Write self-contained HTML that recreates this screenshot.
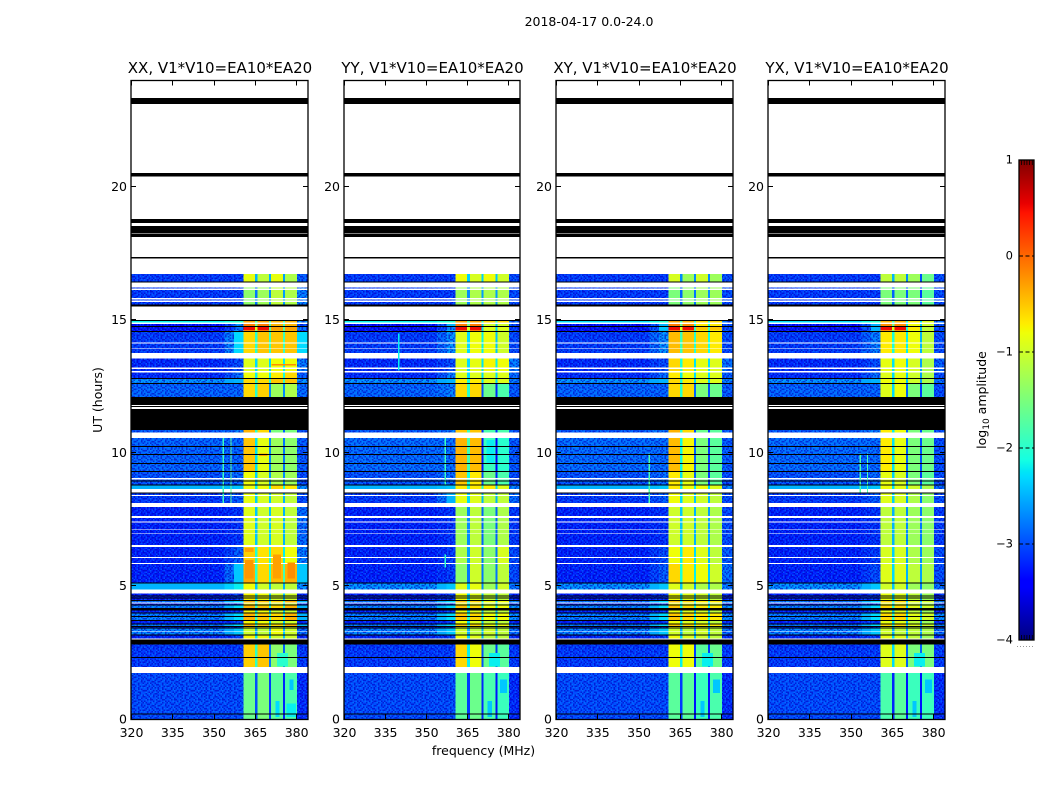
<!DOCTYPE html>
<html lang="en">
<head>
<meta charset="utf-8">
<title>2018-04-17 amplitude waterfall</title>
<style>
html,body{margin:0;padding:0;background:#fff;width:1050px;height:800px;overflow:hidden}
svg{display:block}
text{font-family:"DejaVu Sans","Liberation Sans",sans-serif;fill:#000}
</style>
</head>
<body>
<svg id="figure" xmlns="http://www.w3.org/2000/svg" width="1050" height="800" viewBox="0 0 1050 800">
<defs id="defs"></defs>
<text x="589" y="26" font-size="12.5" text-anchor="middle">2018-04-17 0.0-24.0</text>
<text x="483.5" y="755" font-size="12.5" text-anchor="middle">frequency (MHz)</text>
<text x="102" y="400" font-size="12.5" text-anchor="middle" transform="rotate(-90 102 400)">UT (hours)</text>
<text x="986" y="400" font-size="12.5" text-anchor="middle" transform="rotate(-90 986 400)">log<tspan font-size="9" dy="3">10</tspan><tspan dy="-3"> amplitude</tspan></text>
</svg>
<script>
const panelNames = ['XX, V1*V10=EA10*EA20', 'YY, V1*V10=EA10*EA20', 'XY, V1*V10=EA10*EA20', 'YX, V1*V10=EA10*EA20'];
const xTicks = [320, 335, 350, 365, 380];
const yTicks = [0, 5, 10, 15, 20];
const cbarTicks = [1, 0, -1, -2, -3, -4];

const flaggedBands = [[23.34,23.11],[20.52,20.39],[18.79,18.64],[18.53,18.26],[18.23,18.13],[17.37,17.32],[16.45,16.42],[15.59,15.52],[15.00,14.96],[14.77,14.75],[14.59,14.55],[12.82,12.79],[12.64,12.60],[12.12,11.82],[11.78,11.73],[11.67,10.87],[10.27,10.23],[9.97,9.93],[9.63,9.59],[9.33,9.29],[8.97,8.93],[8.83,8.79],[8.53,8.49],[5.15,5.11],[4.66,4.64],[4.59,4.56],[4.49,4.45],[4.31,4.29],[4.18,4.09],[4.01,3.99],[3.89,3.86],[3.74,3.71],[3.61,3.59],[3.51,3.48],[3.46,3.44],[3.20,3.16],[3.01,2.81],[2.35,2.32],[0.23,0.20]];

const dataBands = [[16.73,16.45,'A'],[16.23,16.19,'B'],[16.14,15.84,'B'],[15.78,15.73,'B'],[15.68,15.59,'B'],[14.96,14.92,'C'],[14.86,14.77,'D'],[14.75,14.62,'E'],[14.62,14.59,'D'],[14.55,14.16,'F'],[14.13,13.94,'F'],[13.91,13.77,'F'],[13.56,13.23,'G'],[13.17,13.09,'G'],[13.04,12.82,'H'],[12.79,12.64,'I'],[12.60,12.12,'J'],[10.87,10.78,'K'],[10.57,10.27,'L'],[10.23,9.97,'L'],[9.93,9.63,'L'],[9.59,9.33,'L'],[9.29,9.07,'M'],[9.02,8.97,'M'],[8.93,8.83,'M'],[8.79,8.66,'N'],[8.49,8.44,'O'],[8.39,8.13,'O'],[7.98,7.64,'P'],[7.56,7.43,'P'],[7.39,7.14,'P'],[7.12,6.99,'P'],[6.97,6.56,'P'],[6.48,6.10,'Q'],[6.06,5.88,'Q'],[5.84,5.15,'R'],[5.11,4.89,'S'],[4.74,4.66,'T'],[4.64,4.59,'T'],[4.56,4.49,'T'],[4.45,4.39,'U'],[4.35,4.31,'T'],[4.29,4.18,'U'],[4.09,4.01,'T'],[3.99,3.89,'U'],[3.86,3.74,'U'],[3.71,3.61,'T'],[3.59,3.51,'U'],[3.48,3.46,'T'],[3.44,3.33,'V'],[3.30,3.20,'V'],[3.16,3.05,'T'],[2.81,2.35,'W'],[2.32,1.97,'W'],[1.75,0.23,'X'],[0.20,0.06,'X'],[0.06,0,'X']];

/* log10 amplitude per group: background, shoulder, sub-band 1-4, upper edge */
const xxLevels = {A:[-3.1,-3.1,-0.85,-1.1,-0.85,-1.2,-2.9],B:[-3.1,-3.1,-1.4,-1.3,-1.1,-1.2,-2.7],C:[-2.2,-2.0,-0.3,-0.3,-0.4,-0.4,-2.6],D:[-3.4,-2.6,-0.1,-0.1,-0.4,-0.4,-3.0],E:[-3.5,-2.8,0.5,0.5,-0.3,-0.3,-2.8],F:[-3.1,-2.3,-0.6,-0.5,-0.5,-0.5,-2.3],G:[-3.2,-3.0,-0.9,-0.9,-0.8,-0.8,-2.7],H:[-3.2,-2.8,-0.8,-0.8,-0.7,-0.6,-2.9],I:[-2.6,-2.5,-0.6,-0.6,-0.5,-0.5,-2.6],J:[-2.85,-2.85,-0.6,-0.55,-1.3,-1.2,-2.8],K:[-2.9,-2.7,-0.4,-0.6,-1.5,-1.5,-2.9],L:[-2.85,-2.85,-0.5,-0.85,-1.3,-1.4,-2.9],M:[-2.95,-2.8,-0.8,-0.95,-1.2,-1.3,-3.0],N:[-2.5,-2.4,-0.8,-0.8,-0.6,-0.7,-2.6],O:[-3.1,-2.9,-0.85,-0.95,-1.0,-1.1,-3.0],P:[-3.25,-3.15,-0.9,-1.0,-0.95,-1.1,-2.8],Q:[-3.25,-2.9,-0.55,-0.65,-0.6,-0.8,-2.7],R:[-3.25,-2.4,-0.35,-0.6,-0.45,-0.4,-2.4],S:[-2.5,-2.2,-0.8,-1.0,-1.1,-1.1,-2.6],T:[-3.25,-3.1,-0.75,-0.8,-1.0,-1.0,-3.2],U:[-2.7,-2.3,-0.4,-0.5,-0.6,-0.4,-2.5],V:[-2.7,-2.4,-1.0,-1.1,-0.8,-1.0,-2.8],W:[-3.1,-3.1,-0.55,-0.5,-1.4,-1.5,-3.1],X:[-3.0,-3.0,-1.6,-1.5,-1.7,-1.8,-3.2]};
const yyLevels = {A:[-3.1,-3.1,-0.8,-0.95,-0.8,-1.0,-3.0],B:[-3.1,-3.1,-1.3,-1.2,-1.2,-1.2,-3.0],C:[-2.2,-2.0,-0.3,-0.3,-0.6,-0.6,-2.8],D:[-3.4,-2.5,-0.1,-0.1,-1.0,-1.0,-3.0],E:[-3.5,-2.7,0.5,0.5,-0.9,-0.9,-3.1],F:[-3.1,-2.6,-0.9,-0.8,-0.8,-1.0,-3.0],G:[-3.2,-3.0,-0.9,-0.85,-0.75,-0.8,-2.7],H:[-3.2,-2.7,-0.9,-0.9,-0.9,-0.9,-2.8],I:[-2.6,-2.5,-0.7,-0.7,-0.9,-0.9,-2.7],J:[-2.85,-2.7,-0.6,-0.6,-1.6,-1.8,-2.9],K:[-2.9,-2.7,-0.5,-0.5,-1.8,-1.8,-2.9],L:[-2.8,-2.8,-0.4,-0.45,-1.9,-2.0,-2.9],M:[-2.95,-2.8,-0.5,-0.7,-1.6,-1.8,-3.0],N:[-2.5,-2.4,-0.7,-0.7,-0.7,-0.9,-2.7],O:[-3.1,-2.5,-0.85,-0.9,-1.1,-1.1,-2.8],P:[-3.25,-3.15,-1.3,-1.1,-1.5,-1.2,-3.1],Q:[-3.25,-3.1,-1.2,-1.0,-1.4,-0.95,-3.0],R:[-3.25,-3.1,-1.4,-1.0,-1.4,-1.1,-3.0],S:[-2.6,-2.4,-0.9,-0.85,-1.3,-1.0,-2.7],T:[-3.25,-3.1,-0.8,-0.9,-1.1,-1.1,-3.2],U:[-2.7,-2.3,-0.5,-0.6,-0.8,-0.8,-2.6],V:[-2.7,-2.4,-1.0,-1.1,-1.0,-1.1,-2.8],W:[-3.1,-3.1,-0.6,-0.8,-1.6,-1.7,-3.1],X:[-3.0,-3.0,-1.7,-1.6,-1.8,-1.9,-3.2]};
const xyLevels = {A:[-3.1,-3.1,-0.95,-1.3,-1.0,-1.3,-3.0],B:[-3.1,-3.1,-1.5,-1.4,-1.3,-1.3,-3.0],C:[-2.3,-2.0,-0.3,-0.4,-0.6,-0.6,-2.8],D:[-3.4,-2.5,-0.1,-0.2,-0.7,-0.7,-3.0],E:[-3.5,-2.4,0.5,0.5,-0.5,-0.5,-3.0],F:[-3.1,-2.6,-0.45,-0.5,-0.6,-0.7,-3.0],G:[-3.2,-3.0,-0.6,-0.7,-0.85,-0.9,-2.8],H:[-3.2,-2.8,-0.7,-0.8,-0.9,-0.9,-2.9],I:[-2.6,-2.5,-0.6,-0.7,-0.9,-0.9,-2.7],J:[-2.85,-2.85,-0.6,-0.6,-1.5,-1.6,-2.9],K:[-2.9,-2.7,-0.4,-0.6,-1.6,-1.7,-2.9],L:[-2.8,-2.8,-0.45,-0.75,-1.5,-1.7,-2.9],M:[-2.95,-2.8,-0.7,-0.85,-1.5,-1.7,-3.0],N:[-2.5,-2.4,-0.7,-0.8,-0.8,-0.9,-2.7],O:[-3.1,-2.9,-0.8,-0.9,-1.0,-1.1,-3.0],P:[-3.25,-3.15,-1.0,-1.0,-1.1,-1.2,-3.0],Q:[-3.25,-3.0,-0.8,-0.7,-0.9,-1.1,-2.9],R:[-3.25,-2.9,-0.6,-0.7,-0.8,-1.0,-2.8],S:[-2.6,-2.4,-0.9,-1.0,-1.2,-1.2,-2.7],T:[-3.25,-3.1,-0.8,-0.9,-1.0,-1.1,-3.2],U:[-2.7,-2.3,-0.5,-0.6,-0.7,-0.7,-2.6],V:[-2.7,-2.4,-1.0,-1.1,-1.0,-1.1,-2.8],W:[-3.1,-3.1,-0.8,-0.8,-1.7,-1.6,-3.1],X:[-3.0,-3.0,-1.7,-1.7,-1.9,-1.8,-3.2]};
const yxLevels = {A:[-3.1,-3.1,-1.1,-1.1,-1.3,-1.6,-3.0],B:[-3.1,-3.1,-1.5,-1.5,-1.5,-1.7,-3.0],C:[-2.3,-2.0,-0.4,-0.4,-0.7,-0.9,-2.8],D:[-3.4,-2.5,-0.2,-0.2,-0.8,-1.0,-3.0],E:[-3.5,-2.5,0.5,0.5,-0.7,-1.1,-3.0],F:[-3.1,-2.7,-0.7,-0.7,-0.8,-1.1,-3.0],G:[-3.2,-3.0,-0.85,-0.8,-0.95,-1.2,-2.9],H:[-3.2,-2.8,-0.9,-0.85,-1.0,-1.2,-3.0],I:[-2.6,-2.5,-0.8,-0.8,-1.0,-1.2,-2.8],J:[-2.85,-2.85,-0.9,-0.8,-1.5,-1.7,-3.0],K:[-2.9,-2.7,-0.7,-0.8,-1.5,-1.6,-3.0],L:[-2.8,-2.8,-0.7,-0.85,-1.5,-1.6,-3.0],M:[-2.95,-2.8,-0.85,-0.95,-1.5,-1.7,-3.0],N:[-2.5,-2.4,-0.8,-0.85,-1.0,-1.2,-2.8],O:[-3.1,-2.9,-0.9,-0.95,-1.2,-1.4,-3.0],P:[-3.25,-3.15,-1.1,-1.1,-1.3,-1.4,-3.1],Q:[-3.25,-3.1,-0.95,-0.95,-1.2,-1.3,-3.0],R:[-3.25,-3.0,-0.9,-0.9,-1.1,-1.2,-3.0],S:[-2.6,-2.4,-1.0,-1.0,-1.3,-1.4,-2.8],T:[-3.25,-3.1,-0.85,-0.9,-1.1,-1.3,-3.2],U:[-2.7,-2.3,-0.6,-0.6,-0.9,-1.0,-2.6],V:[-2.7,-2.4,-1.0,-1.1,-1.1,-1.2,-2.8],W:[-3.1,-3.1,-0.9,-0.9,-1.5,-1.5,-3.1],X:[-3.0,-3.0,-1.8,-1.7,-1.9,-1.9,-3.2]};
const panelLevels = [xxLevels, yyLevels, xyLevels, yxLevels];

/* narrow RFI spikes, hot streaks and dropouts: [freq start, freq end, hour start, hour end, log10 amp] */
const xxFeatures = [[353.3,353.8,8.13,10.57,-1.9],[356.1,356.6,8.13,10.57,-1.7],[361.5,364.5,5.3,6.0,-0.25],[371.5,374.5,5.3,6.2,-0.3],[376.8,379.5,5.3,5.9,-0.2],[361.5,364.5,6.3,6.45,-0.3],[366.5,369.5,10.0,9.9,-0.3],[371,380,13.36,13.3,-0.2],[377.5,379,1.1,1.5,-2.4],[372.5,374,0.1,0.7,-2.3],[376.5,380,0.1,0.6,-2.2],[373,377,2.0,2.5,-2.0]];
const yyFeatures = [[356.8,357.3,8.83,10.57,-1.9],[356.8,357.3,5.7,6.2,-2.0],[339.8,340.2,13.1,14.5,-2.2],[377,379.5,1.0,1.5,-2.4],[372.5,374,0.1,0.7,-2.4],[372,375,9.6,10.5,-2.2],[373,377,2.0,2.5,-2.2]];
const xyFeatures = [[353.6,354.1,8.13,10.0,-1.8],[377,379.5,1.0,1.5,-2.4],[372.5,374,0.1,0.7,-2.4],[373,377,2.0,2.5,-2.2]];
const yxFeatures = [[353.3,353.8,8.5,10.0,-1.8],[355.9,356.4,8.5,10.0,-1.8],[377,379.5,1.0,1.5,-2.4],[372.5,374,0.1,0.7,-2.4],[373,377,2.0,2.5,-2.2]];
const panelFeatures = [xxFeatures, yyFeatures, xyFeatures, yxFeatures];

/* fine texture of the noisy background channels (hand-typed tile) */
const noiseTile = ['0120310201301210','2013021130201302','1302001203120021','0213120310021301','3012031201230120','1200213012101302','0311200130023101','2103012021310210','1021302100120313','0230120312031020','3101203010210231','1203021230130102','0012310102012310','2310201320310021','1023012001123012','3201130210200130'];

const SVG_NS = 'http://www.w3.org/2000/svg';
const fig = document.getElementById('figure');
const defs = document.getElementById('defs');
const axesX = [[131, 308], [344, 520], [556, 733], [768, 945]];
const axisTop = 80.5, axisBottom = 719.5;
const freqMin = 320, freqMax = 384.3, hourMin = 0, hourMax = 24;
const cbarLeft = 1019, cbarRight = 1034, cbarTop = 160, cbarBottom = 640, ampMin = -4, ampMax = 1;

function node(tag, attrs, parent) {
  const el = document.createElementNS(SVG_NS, tag);
  for (const k in attrs) el.setAttribute(k, attrs[k]);
  parent.appendChild(el);
  return el;
}
function lerpTable(t, tbl) {
  for (let i = 1; i < tbl.length; i++) {
    if (t <= tbl[i][0]) {
      const a = tbl[i - 1], b = tbl[i];
      return a[1] + (b[1] - a[1]) * (t - a[0]) / (b[0] - a[0]);
    }
  }
  return tbl[tbl.length - 1][1];
}
const jetR = [[0,0],[0.35,0],[0.66,1],[0.89,1],[1,0.5]];
const jetG = [[0,0],[0.125,0],[0.375,1],[0.64,1],[0.91,0],[1,0]];
const jetB = [[0,0.5],[0.11,1],[0.34,1],[0.65,0],[1,0]];
function jet(level) {
  const t = Math.max(0, Math.min(1, (level - ampMin) / (ampMax - ampMin)));
  return 'rgb(' + [jetR, jetG, jetB].map(function (c) { return Math.round(255 * lerpTable(t, c)); }).join(',') + ')';
}

/* noise pattern built from the typed tile */
const pat = node('pattern', {id: 'noise', patternUnits: 'userSpaceOnUse', width: noiseTile[0].length * 1.5, height: noiseTile.length * 1.5}, defs);
const noiseColors = {'0': ['#0000c0', 0.6], '1': ['#0000ff', 0.0], '2': ['#0058ff', 0.4], '3': ['#0090ff', 0.45]};
noiseTile.forEach(function (row, r) {
  row.split('').forEach(function (ch, c) {
    if (noiseColors[ch][1] === 0) return;
    node('rect', {x: c * 1.5, y: r * 1.5, width: 1.5, height: 1.5, fill: noiseColors[ch][0], 'fill-opacity': noiseColors[ch][1]}, pat);
  });
});

panelNames.forEach(function (name, p) {
  const left = axesX[p][0], right = axesX[p][1];
  const xOf = function (f) { return left + (f - freqMin) * (right - left) / (freqMax - freqMin); };
  const yOf = function (h) { return axisBottom - (h - hourMin) * (axisBottom - axisTop) / (hourMax - hourMin); };
  const levels = panelLevels[p];

  const g = node('g', {'shape-rendering': 'crispEdges'}, fig);
  
  

  dataBands.forEach(function (band) {
    const v = levels[band[2]];
    const bg = v[0], sh = v[1], s1 = v[2], s2 = v[3], s3 = v[4], s4 = v[5], out = v[6];
    const cells = [
      [freqMin, 354, bg], [354, 357.5, (bg + sh) / 2], [357.5, 360.8, sh],
      [360.8, 365, s1], [365, 366, Math.min(s1, s2) - 1.4],
      [366, 370.2, s2], [370.2, 370.9, Math.min(s2, s3) - 1.4],
      [370.9, 375.3, s3], [375.3, 376, Math.min(s3, s4) - 1.4],
      [376, 380.3, s4], [380.3, freqMax, out]
    ];
    const y0 = yOf(band[0]), y1 = yOf(band[1]);
    cells.forEach(function (c, i) {
      const cell = node('rect', {x: xOf(c[0]), y: y0, width: xOf(c[1]) - xOf(c[0]), height: y1 - y0, fill: jet(c[2])}, g);
      
      
      const outsideCore = i < 3 || i === 10;
      if (outsideCore && c[2] < -2.55) {
        const grain = node('rect', {x: xOf(c[0]), y: y0, width: xOf(c[1]) - xOf(c[0]), height: y1 - y0, fill: 'url(#noise)'}, g);
        
        
      }
    });
  });

  panelFeatures[p].forEach(function (f) {
    const mark = node('rect', {x: xOf(f[0]), y: yOf(Math.max(f[2], f[3])), width: Math.max(1, xOf(f[1]) - xOf(f[0])), height: Math.max(1, Math.abs(yOf(f[3]) - yOf(f[2]))), fill: jet(f[4])}, g);
    
    
  });

  flaggedBands.forEach(function (band) {
    const bar = node('rect', {x: left, y: yOf(band[0]), width: right - left, height: Math.max(1, yOf(band[1]) - yOf(band[0])), fill: '#000'}, g);
    
    
  });

  xTicks.forEach(function (t) {
    const x = Math.round(xOf(t)) + 0.5;
    const tickB = node('line', {x1: x, x2: x, y1: axisBottom, y2: axisBottom - 5, stroke: '#000', 'stroke-width': 1}, fig);
    
    
    const tickT = node('line', {x1: x, x2: x, y1: axisTop, y2: axisTop + 5, stroke: '#000', 'stroke-width': 1}, fig);
    
    
    const lab = node('text', {x: xOf(t) + 0.5, y: 737, 'font-size': 12.5, 'text-anchor': 'middle'}, fig);
    
    
    lab.textContent = t;
  });

  yTicks.forEach(function (t) {
    const y = Math.round(yOf(t)) - 0.5;
    const tickL = node('line', {x1: left, x2: left + 5, y1: y, y2: y, stroke: '#000', 'stroke-width': 1}, fig);
    
    
    const tickR = node('line', {x1: right, x2: right - 5, y1: y, y2: y, stroke: '#000', 'stroke-width': 1}, fig);
    
    
    const lab = node('text', {x: left - 4, y: yOf(t) + 3.8, 'font-size': 12.5, 'text-anchor': 'end'}, fig);
    
    
    lab.textContent = t;
  });

  const frame = node('rect', {x: left, y: axisTop, width: right - left, height: axisBottom - axisTop, fill: 'none', stroke: '#000', 'stroke-width': 1.3}, fig);
  
  

  const title = node('text', {x: (left + right) / 2 + 0.5, y: 73, 'font-size': 15, 'text-anchor': 'middle'}, fig);
  
  
  title.textContent = name;
});

/* colour bar */
const cbarY = function (v) { return cbarBottom - (v - ampMin) * (cbarBottom - cbarTop) / (ampMax - ampMin); };
const grad = node('linearGradient', {id: 'jetgrad', x1: 0, y1: 1, x2: 0, y2: 0}, defs);
[0, 0.11, 0.125, 0.34, 0.35, 0.375, 0.5, 0.64, 0.65, 0.66, 0.75, 0.89, 0.91, 1].forEach(function (t) {
  node('stop', {offset: t, 'stop-color': jet(ampMin + t * (ampMax - ampMin))}, grad);
});
const cbar = node('rect', {x: cbarLeft, y: cbarTop, width: cbarRight - cbarLeft, height: cbarBottom - cbarTop, fill: 'url(#jetgrad)', stroke: '#000', 'stroke-width': 1.3}, fig);



cbarTicks.forEach(function (t) {
  const y = cbarY(t);
  const lab = node('text', {x: 1013, y: y + 3.5, 'font-size': 11.5, 'text-anchor': 'end'}, fig);
  
  
  lab.textContent = String(t).replace('-', '\u2212');
  if (t > ampMin && t < ampMax) {
    const tick = node('line', {x1: cbarLeft, x2: cbarRight, y1: y, y2: y, stroke: '#000', 'stroke-width': 1, 'stroke-dasharray': '4 2.5'}, fig);
    
    
  }
});
[cbarY(ampMax), cbarY(ampMin)].forEach(function (edge, i) {
  for (let k = 0; k < 5; k++) {
    const x = cbarLeft + 2.5 + k * 2.7;
    const minor = node('line', {x1: x, x2: x, y1: edge, y2: i === 0 ? edge + 5 : edge - 5, stroke: '#000', 'stroke-width': 0.8}, fig);
    
    
  }
});
const dots = node('line', {x1: 1017, x2: 1035, y1: 646.5, y2: 646.5, stroke: '#999', 'stroke-width': 1, 'stroke-dasharray': '1 2'}, fig);


</script>
</body>
</html>
